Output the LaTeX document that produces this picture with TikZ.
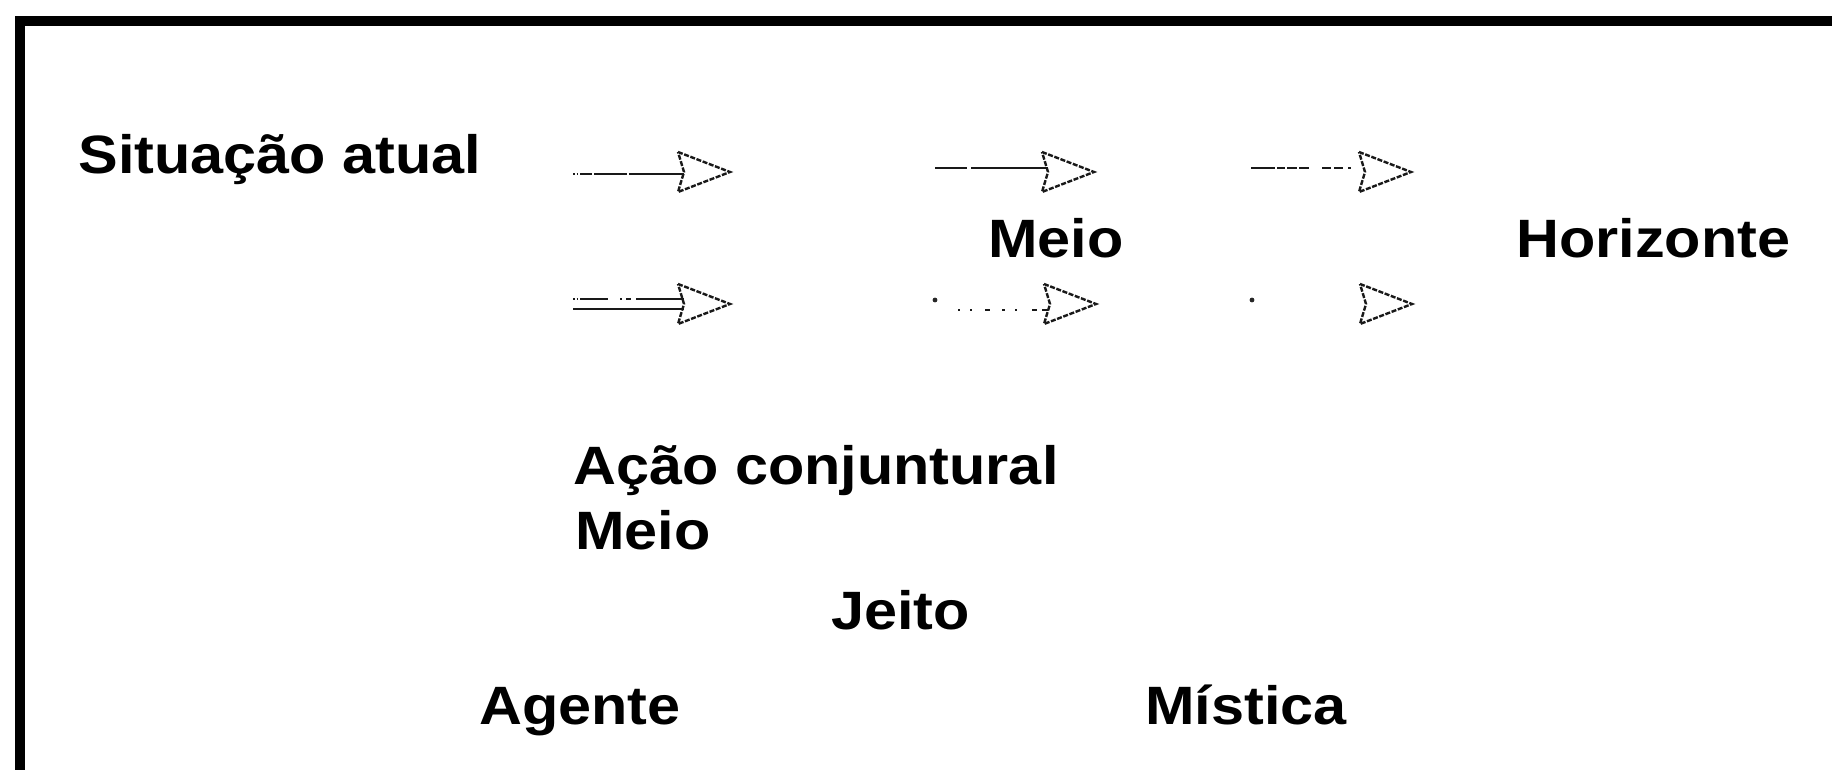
\documentclass[tikz,border=0pt]{standalone}
\usepackage{fontspec}
\setmainfont{Liberation Sans}
\newfontfamily\lblfont[FakeStretch=1.1]{Liberation Sans}
\begin{document}
\begin{tikzpicture}[x=0.5pt,y=-0.5pt,
  lbl/.style={inner sep=0pt, anchor=base west, font=\lblfont\fontsize{27}{32}\selectfont\bfseries},
  frameline/.style={line width=5pt, black},
  shaft/.style={line width=1.3pt, black!90},
  headline/.style={line width=1.2pt, black!90, dash pattern=on 2.5pt off 0.8pt, line join=miter},
  openhead/.pic={\draw[headline] (-52,-20) -- (0,0) -- (-52,20) -- (-46,0) -- cycle;}
]
\useasboundingbox[fill=white] (0,0) rectangle (1832,770);

% frame (top and left borders)
\coordinate (ftl) at (19.5,21.5);
\coordinate (ftr) at (1832,21.5);
\coordinate (fbl) at (19.5,770);
\draw[frameline, line cap=rect] (fbl) -- (ftl) -- (ftr);

% labels
\node[lbl] (sit) at (78,174) {Situação atual};
\node[lbl] (meio1) at (988,258) {Meio};
\node[lbl] (hor) at (1516,258) {Horizonte};
\node[lbl] (acao) at (573,484) {Ação conjuntural};
\node[lbl] (meio2) at (575,549) {Meio};
\node[lbl] (jeito) at (831,629) {Jeito};
\node[lbl] (agente) at (479,724) {Agente};
\node[lbl] (mistica) at (1145,724) {Mística};

% row 1 arrows
\coordinate (a1s) at (573,174); \coordinate (a1e) at (684,174);
\draw[shaft, dash pattern=on 0.75pt off 1pt on 0.75pt off 1pt on 6pt off 1pt on 16.5pt off 1pt on 60pt] (a1s) -- (a1e);
\pic at (730,172) {openhead};

\coordinate (a2s) at (935,168); \coordinate (a2e) at (1048,168);
\draw[shaft, dash pattern=on 16pt off 2pt on 60pt] (a2s) -- (a2e);
\pic at (1094,172) {openhead};

\coordinate (a3s) at (1251,168); \coordinate (a3e) at (1362,168);
\draw[shaft, dash pattern=on 12pt off 1pt on 4pt off 1pt on 5pt off 1pt on 5pt off 6.5pt on 4.5pt off 1.5pt on 4.5pt off 2.5pt on 1.5pt off 20pt] (a3s) -- (a3e);
\pic at (1411,172) {openhead};

% row 2 arrows
\coordinate (a4s) at (573,299); \coordinate (a4e) at (684,299);
\coordinate (a4s2) at (573,309); \coordinate (a4e2) at (684,309);
\draw[shaft, dash pattern=on 0.75pt off 1pt on 0.75pt off 1pt on 14pt off 6pt on 1pt off 2pt on 2.5pt off 2.5pt on 60pt] (a4s) -- (a4e);
\draw[shaft] (a4s2) -- (a4e2);
\pic at (730,304) {openhead};

\coordinate (a5d) at (935,300);
\coordinate (a5s) at (958,310); \coordinate (a5e) at (1048,310);
\fill[black!85] (a5d) circle (1.2pt);
\draw[shaft, line width=1pt, dash pattern=on 0.75pt off 5.25pt on 0.75pt off 6.75pt on 2.5pt off 6pt on 1.5pt off 5pt on 1pt off 7.5pt on 2.5pt off 2.5pt on 3pt] (a5s) -- (a5e);
\pic at (1096,304) {openhead};

\coordinate (a6d) at (1252,300);
\fill[black!85] (a6d) circle (1.2pt);
\pic at (1412,304) {openhead};

\end{tikzpicture}
\end{document}
